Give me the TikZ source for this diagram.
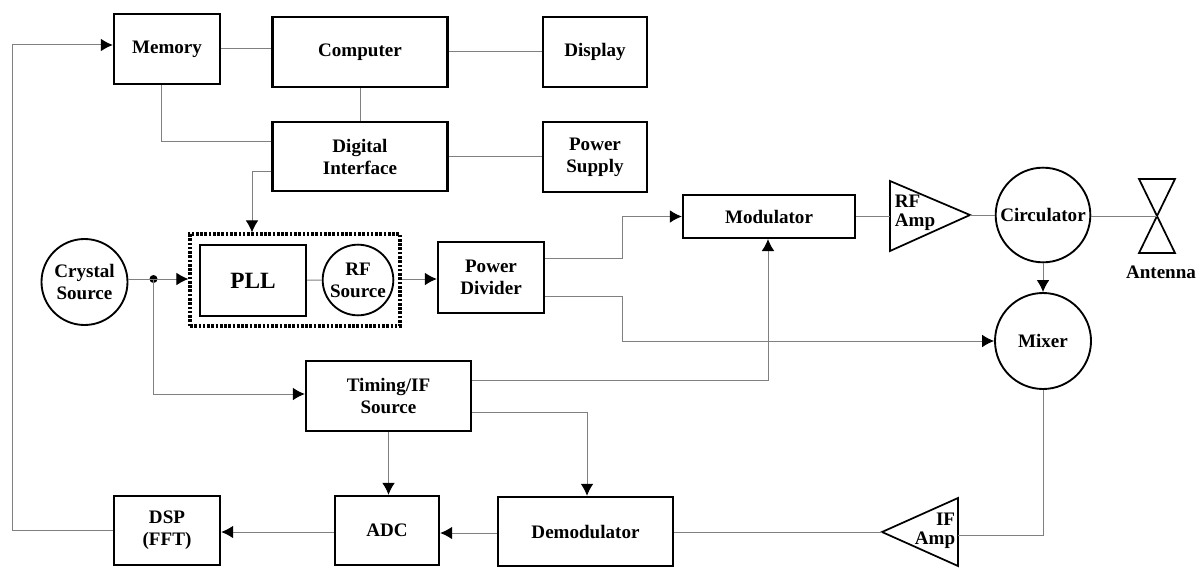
\documentclass[tikz,border=0pt]{standalone}
\usepackage{fontspec}
\setmainfont{Liberation Serif}
\usetikzlibrary{arrows.meta}
\tikzset{
  block/.style = {draw,line width=1.8pt,inner sep=0pt,align=center,
    font=\bfseries\fontsize{14.3}{16.5}\selectfont},
  round/.style = {block,circle,line width=1.4pt},
  wire/.style = {draw=black!50,line width=0.75pt},
  flow/.style = {wire,-{Latex[black,length=9pt,width=9.5pt]}},
  label/.style = {inner sep=0pt,font=\bfseries\fontsize{14.3}{14.5}\selectfont}
}

\begin{document}
\begin{tikzpicture}[x=0.75pt,y=-0.75pt]
  \useasboundingbox (0,0) rectangle (1198,567);
  % top row
  \node[block,minimum width=79.5pt,minimum height=52.5pt] (memory) at (167,49) {Memory};
  \node[block,minimum width=131pt,minimum height=52.5pt] (computer) at (360,52) {Computer};
  \node[block,minimum width=78.4pt,minimum height=52.5pt] (display) at (595,52) {Display};
  \node[block,minimum width=131pt,minimum height=51.8pt] (digital) at (360,156.5) {Digital\\Interface};
  \node[block,minimum width=78.4pt,minimum height=52.5pt] (supply) at (595,157) {Power\\Supply};
  % middle row
  \node[round,minimum size=64.5pt] (crystal) at (84.5,282) {Crystal\\Source};
  \node[block,dash pattern=on 2pt off 1.2pt,line width=2.4pt,minimum width=157.5pt,minimum height=69pt] (pllbox) at (295,280) {};
  \node[block,font=\bfseries\fontsize{17.5}{20}\selectfont,minimum width=79.5pt,minimum height=53pt] (pll) at (253,280.5) {PLL};
  \node[round,minimum size=53pt] (rfsource) at (358,280) {RF\\Source};
  \node[block,minimum width=79.5pt,minimum height=53pt] (divider) at (491,277.5) {Power\\Divider};
  \node[block,minimum width=129pt,minimum height=32pt] (modulator) at (769,216.5) {Modulator};
  \node[round,minimum size=71pt] (circulator) at (1043,215) {Circulator};
  \node[round,minimum size=72pt] (mixer) at (1043,341) {Mixer};
  \node[block,minimum width=123.75pt,minimum height=52.5pt] (timing) at (388.5,396) {Timing/IF\\Source};
  % bottom row
  \node[block,minimum width=79.5pt,minimum height=51.75pt] (dsp) at (167,530.5) {DSP\\(FFT)};
  \node[block,minimum width=78pt,minimum height=51.75pt] (adc) at (387,530.5) {ADC};
  \node[block,minimum width=131.25pt,minimum height=51.75pt] (demod) at (585.5,531.5) {Demodulator};
  % amplifiers
  \coordinate (rfamp) at (890,216);
  \coordinate (rfamptip) at (970,215);
  \coordinate (ifamp) at (958,535);
  \coordinate (ifamptip) at (882,532);
  \draw[line width=1.3pt,line join=miter] (890,181) -- (rfamptip) -- (890,251) -- cycle;
  \draw[line width=1.3pt,line join=miter] (958,498) -- (ifamptip) -- (958,566) -- cycle;
  \node[label,align=left] (rfamplabel) at (915,213) {RF\\Amp};
  \node[label,align=right] (ifamplabel) at (935,531) {IF\\Amp};
  % antenna
  \coordinate (feed) at (1157,216);
  \draw[line width=1.3pt] (1139,179) -- (1175,179) -- (1139,253) -- (1175,253) -- cycle;
  \node[label] (antenna) at (1161,272) {Antenna};
  % junction
  \coordinate (tee) at (153.5,279);
  \fill (tee) circle (4);
  % plain wires
  \draw[wire] (memory.east) -- (computer.west |- memory.east);
  \draw[wire] (computer) -- (display);
  \draw[wire] (computer) -- (digital);
  \draw[wire] (memory.south -| 161,0) |- (digital.west |- 0,141);
  \draw[wire] (digital.east) -- (supply.west |- digital.east);
  \draw[wire] (pll) -- (rfsource);
  \draw[wire] (modulator.east |- rfamp) -- (rfamp);
  \draw[wire] (rfamptip) -- (circulator);
  \draw[wire] (circulator.east |- feed) -- (feed);
  \draw[wire] (mixer) |- (ifamp);
  \draw[wire] (ifamptip) -- (demod.east |- ifamptip);
  % arrows
  \draw[wire] (crystal.east |- tee) -- (tee);
  \draw[flow] (tee) -- (pllbox.west |- tee);
  \draw[flow] (tee) |- (timing.west |- 0,394);
  \draw[flow] (digital.west |- 0,171) -| (pllbox.north -| 252,0);
  \draw[flow] (pllbox.east |- tee) -- (divider.west |- tee);
  \draw[flow] (divider.east |- 0,258) -- (622,258) |- (modulator.west);
  \draw[flow] (divider.east |- 0,296) -- (622,296) |- (mixer.west);
  \draw[flow] (timing.east |- 0,380) -| (modulator.south -| 768,0);
  \draw[flow] (timing.east |- 0,412) -| (demod.north -| 587,0);
  \draw[flow] (timing.south) -- (timing.south |- adc.north);
  \draw[flow] (circulator) -- (mixer);
  \draw[flow] (demod.west |- 0,533) -- (adc.east |- 0,533);
  \draw[flow] (adc.west |- 0,532) -- (dsp.east |- 0,532);
  \draw[flow] (dsp.west) -- (12,530.5) |- (memory.west |- 0,45);
\end{tikzpicture}
\end{document}
